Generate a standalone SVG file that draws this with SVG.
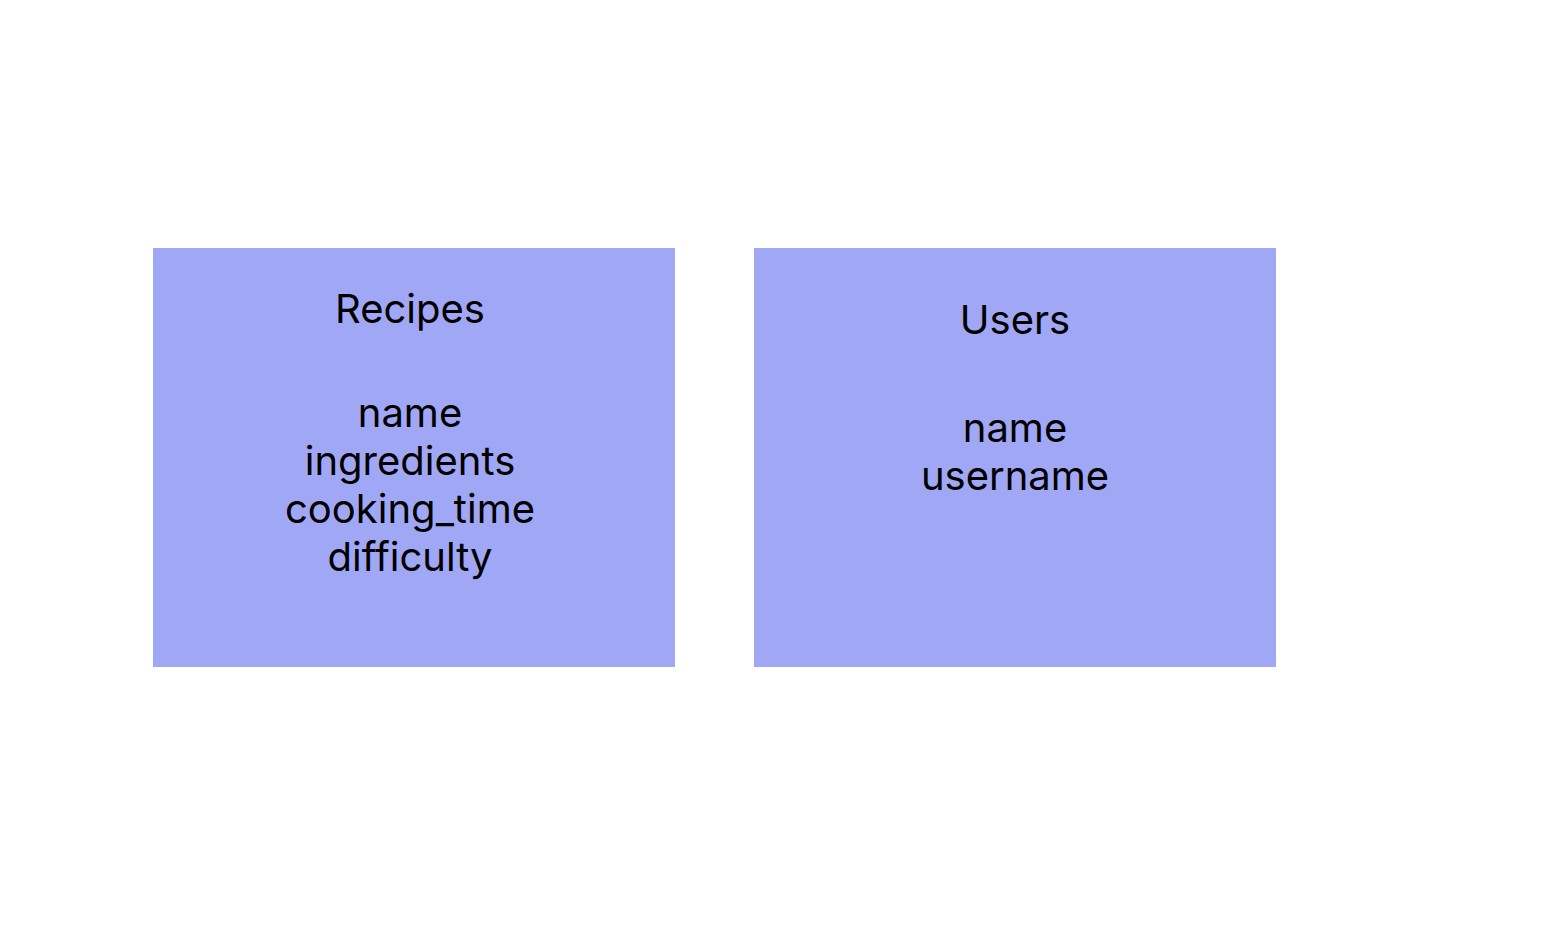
<svg xmlns="http://www.w3.org/2000/svg" width="1549" height="950" viewBox="0 0 1549 950">
<style>
.box{fill:#A0A7F5}
.t{font-family:Inter,"Noto Sans",sans-serif;font-size:40px;fill:#000;text-anchor:middle}
</style>
<rect x="0" y="0" width="1549" height="950" fill="#fff"/>
<g id="recipes">
<rect class="box" x="153" y="248" width="522" height="419"/>
<text class="t" x="410" y="323">Recipes</text>
<text class="t" x="410" y="427">name</text>
<text class="t" x="410" y="475">ingredients</text>
<text class="t" x="410" y="523">cooking_time</text>
<text class="t" x="410" y="571">difficulty</text>
</g>
<g id="users">
<rect class="box" x="754" y="248" width="522" height="419"/>
<text class="t" x="1015" y="334">Users</text>
<text class="t" x="1015" y="442">name</text>
<text class="t" x="1015" y="490">username</text>
</g>
<g id="connectors"></g>
</svg>
